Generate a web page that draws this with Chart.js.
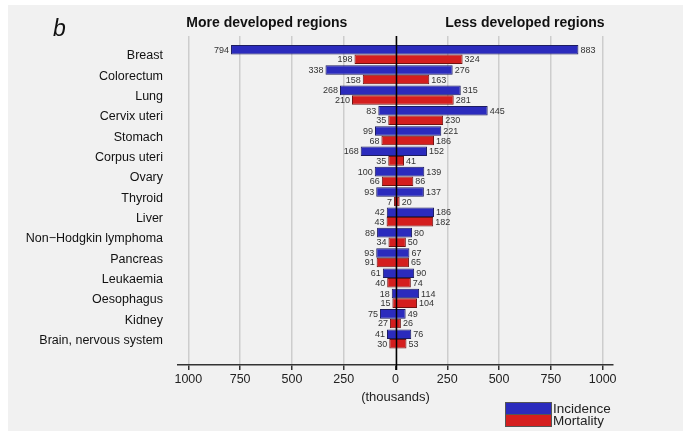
<!DOCTYPE html>
<html>
<head>
<meta charset="utf-8">
<script src="https://cdn.jsdelivr.net/npm/chart.js@4/dist/chart.umd.min.js"></script>
<style>
  html, body { margin: 0; padding: 0; background: #ffffff; }
  #wrap { width: 683px; height: 431px; }
</style>
</head>
<body>
<div id="wrap"><canvas id="c" width="683" height="431"></canvas></div>
<script>
// Cancer sites, new cases and deaths in thousands
const categories = ['Breast', 'Colorectum', 'Lung', 'Cervix uteri', 'Stomach', 'Corpus uteri', 'Ovary',
  'Thyroid', 'Liver', 'Non\u2212Hodgkin lymphoma', 'Pancreas', 'Leukaemia', 'Oesophagus', 'Kidney',
  'Brain, nervous system'];
const moreIncidence = [794, 338, 268, 83, 99, 168, 100, 93, 42, 89, 93, 61, 18, 75, 41];
const lessIncidence = [883, 276, 315, 445, 221, 152, 139, 137, 186, 80, 67, 90, 114, 49, 76];
const moreMortality = [198, 158, 210, 35, 68, 35, 66, 7, 43, 34, 91, 40, 15, 27, 30];
const lessMortality = [324, 163, 281, 230, 186, 41, 86, 20, 182, 50, 65, 74, 104, 26, 53];
const xTicks = [-1000, -750, -500, -250, 0, 250, 500, 750, 1000];

const FONT = "'Liberation Sans', Arial, Helvetica, sans-serif";

// Floating bars: "more developed" to the left of zero, "less developed" to the right
function pairs(left, right) {
  return categories.map((c, i) => ({ x: [-left[i], right[i]], y: i }));
}

const panelBackground = {
  id: 'panelBackground',
  beforeDraw(chart) {
    const ctx = chart.ctx;
    ctx.save();
    ctx.fillStyle = '#ffffff';
    ctx.fillRect(0, 0, chart.width, chart.height);
    ctx.fillStyle = '#f1f1f1';
    ctx.fillRect(8, 5, chart.width - 8, chart.height - 5);
    ctx.restore();
  }
};

const zeroAndValues = {
  id: 'zeroAndValues',
  afterDatasetsDraw(chart) {
    const ctx = chart.ctx;
    const xs = chart.scales.x;
    const area = chart.chartArea;
    ctx.save();
    // zero line over the bars
    const x0 = Math.round(xs.getPixelForValue(0)) + 0.5;
    ctx.strokeStyle = '#000000';
    ctx.lineWidth = 1.5;
    ctx.beginPath();
    ctx.moveTo(x0, area.top);
    ctx.lineTo(x0, area.bottom + 5);
    ctx.stroke();

    // value labels at both ends of each bar
    const sources = [[moreIncidence, lessIncidence], [moreMortality, lessMortality]];
    ctx.font = '9px ' + FONT;
    ctx.fillStyle = '#333333';
    ctx.textBaseline = 'middle';
    chart.data.datasets.forEach((ds, d) => {
      const meta = chart.getDatasetMeta(d);
      meta.data.forEach((el, i) => {
        const p = el.getProps(['x', 'y', 'base'], true);
        const l = Math.min(p.x, p.base), r = Math.max(p.x, p.base);
        ctx.textAlign = 'right';
        ctx.fillText(String(sources[d][0][i]), l - 2, p.y + 0.5);
        ctx.textAlign = 'left';
        ctx.fillText(String(sources[d][1][i]), r + 2, p.y + 0.5);
      });
    });
    ctx.restore();
  }
};

const headings = {
  id: 'headings',
  afterDraw(chart) {
    const ctx = chart.ctx;
    const xs = chart.scales.x;
    ctx.save();
    ctx.fillStyle = '#111111';
    ctx.textBaseline = 'middle';
    ctx.font = 'italic 23px ' + FONT;
    ctx.textAlign = 'left';
    ctx.fillText('b', 53, 30);

    ctx.font = 'bold 14px ' + FONT;
    ctx.textAlign = 'left';
    ctx.fillText('More developed regions', xs.getPixelForValue(-1000) - 2, 23);
    ctx.textAlign = 'right';
    ctx.fillText('Less developed regions', xs.getPixelForValue(1000) + 2, 23);

    // legend: one box split into the two series colours
    const ds = chart.data.datasets;
    const bx = 505, by = 402, bw = 46, bh = 12;
    ctx.fillStyle = ds[0].backgroundColor;
    ctx.fillRect(bx, by, bw, bh);
    ctx.fillStyle = ds[1].backgroundColor;
    ctx.fillRect(bx, by + bh, bw, bh);
    ctx.strokeStyle = '#555555';
    ctx.lineWidth = 1;
    ctx.strokeRect(bx + 0.5, by + 0.5, bw, bh * 2);
    ctx.beginPath();
    ctx.moveTo(bx, by + bh + 0.5);
    ctx.lineTo(bx + bw, by + bh + 0.5);
    ctx.stroke();
    ctx.fillStyle = '#222222';
    ctx.font = '13.5px ' + FONT;
    ctx.textAlign = 'left';
    ctx.fillText(ds[0].label, bx + bw + 2, by + 7);
    ctx.fillText(ds[1].label, bx + bw + 2, by + bh + 7);
    ctx.restore();
  }
};

new Chart(document.getElementById('c'), {
  type: 'bar',
  data: {
    datasets: [
      {
        label: 'Incidence',
        data: pairs(moreIncidence, lessIncidence),
        backgroundColor: '#2b2bbd',
        borderColor: '#1c1c60',
        borderWidth: 1,
        borderSkipped: false,
        categoryPercentage: 0.94,
        barPercentage: 1.0
      },
      {
        label: 'Mortality',
        data: pairs(moreMortality, lessMortality),
        backgroundColor: '#d41e1e',
        borderColor: '#701212',
        borderWidth: 1,
        borderSkipped: false,
        categoryPercentage: 0.94,
        barPercentage: 1.0
      }
    ]
  },
  options: {
    indexAxis: 'y',
    responsive: false,
    animation: false,
    devicePixelRatio: 1,
    layout: { padding: { left: 0, right: 70, top: 36, bottom: 26 } },
    plugins: { legend: { display: false }, tooltip: { enabled: false } },
    scales: {
      x: {
        type: 'linear',
        min: -1050,
        max: 1050,
        afterBuildTicks(scale) { scale.ticks = xTicks.map(v => ({ value: v })); },
        afterFit(scale) { scale.height = 40; },
        ticks: {
          callback: v => String(Math.abs(v)),
          font: { family: FONT, size: 12.5 },
          color: '#222222',
          padding: 2,
          maxRotation: 0,
          autoSkip: false
        },
        grid: {
          color: '#cdcdcd',
          lineWidth: 1.5,
          tickLength: 5,
          tickColor: '#333333',
          tickWidth: 1.5
        },
        border: { display: true, color: '#333333', width: 1.5 },
        title: {
          display: true,
          text: '(thousands)',
          font: { family: FONT, size: 13 },
          color: '#222222',
          padding: { top: 2, bottom: 0 }
        }
      },
      y: {
        type: 'linear',
        reverse: true,
        offset: false,
        min: -0.91,
        max: 15.28,
        afterBuildTicks(scale) { scale.ticks = categories.map((c, i) => ({ value: i })); },
        afterFit(scale) { scale.width = 178; },
        ticks: {
          callback: v => categories[v],
          font: { family: FONT, size: 12.5 },
          color: '#111111',
          padding: 7,
          labelOffset: 1.5,
          autoSkip: false
        },
        grid: { display: false, offset: false },
        border: { display: false }
      }
    }
  },
  plugins: [panelBackground, zeroAndValues, headings]
});
</script>
</body>
</html>
